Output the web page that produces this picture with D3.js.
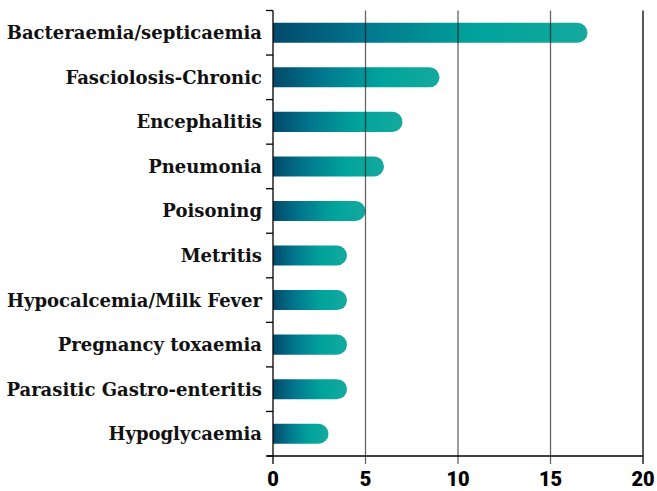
<!DOCTYPE html>
<html><head><meta charset="utf-8">
<script src="https://cdn.jsdelivr.net/npm/d3@7"></script>
<style>body{margin:0;background:#fff}</style>
</head><body><svg id="c" width="657" height="491"></svg>
<script>
const categories = ["Bacteraemia/septicaemia","Fasciolosis-Chronic","Encephalitis","Pneumonia","Poisoning","Metritis","Hypocalcemia/Milk Fever","Pregnancy toxaemia","Parasitic Gastro-enteritis","Hypoglycaemia"];
const values = [17, 9, 7, 6, 5, 4, 4, 4, 4, 3];
const xTicks = [0, 5, 10, 15, 20];

const svg = d3.select("#c");
const x = d3.scaleLinear().domain([0, 20]).range([273, 643]);
const y = d3.scaleBand().domain(categories).range([10.5, 456]).paddingInner(0.55).paddingOuter(0.275);
const step = y.step();

const defs = svg.append("defs");
const g = defs.append("linearGradient").attr("id","grad").attr("x1","0%").attr("x2","100%");
g.append("stop").attr("offset","0%").attr("stop-color","#02496a");
g.append("stop").attr("offset","30%").attr("stop-color","#01788e");
g.append("stop").attr("offset","65%").attr("stop-color","#00a39b");
g.append("stop").attr("offset","100%").attr("stop-color","#15a99f");

// bars
const bh = y.bandwidth();
svg.append("g").selectAll("path").data(categories).join("path")
  .attr("fill","url(#grad)")
  .attr("d",(c,i)=>{
    const x0 = x(0), x1 = x(values[i]), y0 = y(c), r = bh/2;
    return `M${x0},${y0}H${x1-r}A${r},${r} 0 0 1 ${x1-r},${y0+bh}H${x0}Z`;
  });

// gridlines (extend below axis as ticks)
svg.append("g").selectAll("line").data(xTicks.filter(d=>d>0)).join("line")
  .attr("x1",d=>x(d)).attr("x2",d=>x(d)).attr("y1",10.5).attr("y2",464)
  .attr("stroke","#000").attr("stroke-opacity",d=>d===20?1:0.6).attr("stroke-width",1.3);

// y axis
const ya = svg.append("g").attr("transform",`translate(${x(0)},0)`);
ya.append("line").attr("x1",0).attr("x2",0).attr("y1",10.5).attr("y2",464).attr("stroke","#000").attr("stroke-width",1.3);
const bounds = d3.range(categories.length+1).map(i=>10.5+i*step);
ya.selectAll("line.t").data(bounds).join("line").attr("class","t")
  .attr("x1",-7).attr("x2",0).attr("y1",d=>d).attr("y2",d=>d).attr("stroke","#000").attr("stroke-width",1.3);
ya.selectAll("text").data(categories).join("text")
  .attr("x",-11).attr("y",c=>y(c)+bh/2).attr("dy","0.36em")
  .attr("text-anchor","end")
  .attr("font-family","DejaVu Serif").attr("font-weight","bold").attr("font-size","18px")
  .attr("fill","#111").text(c=>c);

// x axis
const xa = svg.append("g").attr("transform","translate(0,456)");
xa.append("line").attr("x1",x(0)-6).attr("x2",x(20)).attr("stroke","#000").attr("stroke-width",1.3);
xa.selectAll("text").data(xTicks).join("text")
  .attr("x",d=>x(d)).attr("y",30).attr("text-anchor","middle")
  .attr("font-family","Roboto").attr("font-weight","900").attr("font-size","20px")
  .attr("fill","#000").text(d=>d);
</script></body></html>
